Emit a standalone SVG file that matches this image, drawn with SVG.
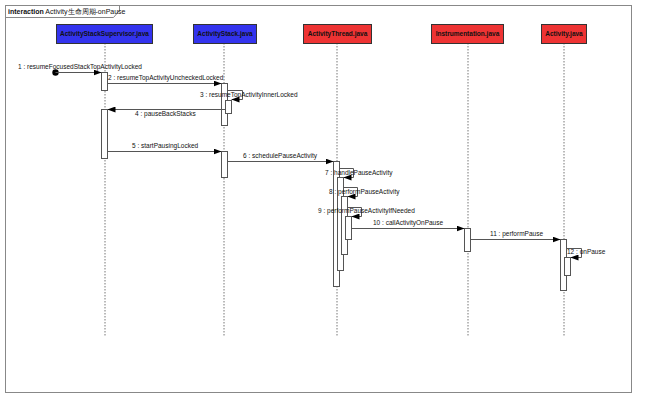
<svg xmlns="http://www.w3.org/2000/svg" width="650" height="409" viewBox="0 0 650 409">
<defs>
<marker id="ah" markerWidth="8" markerHeight="6" refX="8" refY="3" orient="auto" markerUnits="userSpaceOnUse">
<path d="M0,0 L8,3 L0,6 Z" fill="#000"/>
</marker>
<style>
.frame{fill:#fff;stroke:#888;stroke-width:1}
.hdr{stroke:#333;stroke-width:1}
.blue{fill:#3333ee}
.red{fill:#ee3333}
.ht{font-family:"Liberation Sans",Arial,sans-serif;font-size:6.5px;font-weight:bold;fill:#111;text-anchor:middle}
.life{stroke:#777;stroke-width:1;stroke-dasharray:1.5,1.5;fill:none}
.act{fill:#fff;stroke:#555;stroke-width:1}
.msg{stroke:#555;stroke-width:1;fill:none;marker-end:url(#ah)}
.lbl{font-family:"Liberation Sans",Arial,sans-serif;font-size:6.5px;fill:#111}
.ttl{font-family:"Liberation Sans",Arial,sans-serif;font-size:7px;fill:#111}
</style>
</defs>
<rect x="0" y="0" width="650" height="409" fill="#fff"/>
<rect class="frame" x="5.5" y="5.5" width="626" height="387"/>
<path d="M5.5,17.5 L113.5,17.5 L119.5,10.5 L119.5,5.5" fill="none" stroke="#888"/>
<text class="ttl" x="8" y="14"><tspan font-weight="bold">interaction</tspan> Activity生命周期-onPause</text>

<g id="lifelines">
<line class="life" x1="105" y1="43" x2="105" y2="336"/>
<line class="life" x1="224" y1="43" x2="224" y2="336"/>
<line class="life" x1="337" y1="43" x2="337" y2="336"/>
<line class="life" x1="468" y1="43" x2="468" y2="336"/>
<line class="life" x1="564" y1="43" x2="564" y2="336"/>
</g>

<g id="ActivityStackSupervisor">
<rect class="hdr blue" x="56.5" y="24.5" width="96" height="19"/>
<text class="ht" x="104.5" y="36.3">ActivityStackSupervisor.java</text>
</g>
<g id="ActivityStack">
<rect class="hdr blue" x="193.5" y="24.5" width="63" height="19"/>
<text class="ht" x="225" y="36.3">ActivityStack.java</text>
</g>
<g id="ActivityThread">
<rect class="hdr red" x="303.5" y="24.5" width="68" height="19"/>
<text class="ht" x="337.5" y="36.3">ActivityThread.java</text>
</g>
<g id="Instrumentation">
<rect class="hdr red" x="431.5" y="24.5" width="72" height="19"/>
<text class="ht" x="467.5" y="36.3">Instrumentation.java</text>
</g>
<g id="Activity">
<rect class="hdr red" x="541.5" y="24.5" width="45" height="19"/>
<text class="ht" x="564" y="36.3">Activity.java</text>
</g>

<g id="activations">
<rect class="act" x="101.5" y="72.5" width="6" height="18"/>
<rect class="act" x="101.5" y="109.5" width="6" height="49"/>
<rect class="act" x="221.5" y="83.5" width="6" height="42"/>
<rect class="act" x="225.5" y="100.5" width="6" height="13"/>
<rect class="act" x="221.5" y="151.5" width="6" height="26"/>
<rect class="act" x="333.5" y="161.5" width="6" height="125"/>
<rect class="act" x="337.5" y="177.5" width="6" height="93"/>
<rect class="act" x="341.5" y="196.5" width="6" height="58"/>
<rect class="act" x="345.5" y="216.5" width="6" height="23"/>
<rect class="act" x="464.5" y="228.5" width="6" height="23"/>
<rect class="act" x="560.5" y="239.5" width="6" height="51"/>
<rect class="act" x="564.5" y="257.5" width="6" height="18"/>
</g>

<g id="connectors">
<circle cx="55.5" cy="72.5" r="3.2" fill="#000"/>
<line class="msg" x1="55.5" y1="72.5" x2="101.5" y2="72.5"/>
<line class="msg" x1="107.5" y1="83.5" x2="221.5" y2="83.5"/>
<path class="msg" d="M227.5,90.5 L242.5,90.5 L242.5,99.5 L231.5,99.5"/>
<line class="msg" x1="225.5" y1="109.5" x2="107.5" y2="109.5"/>
<line class="msg" x1="107.5" y1="151.5" x2="221.5" y2="151.5"/>
<line class="msg" x1="227.5" y1="161.5" x2="333.5" y2="161.5"/>
<path class="msg" d="M339.5,168.5 L353.5,168.5 L353.5,177.5 L343.5,177.5"/>
<path class="msg" d="M343.5,187.5 L357.5,187.5 L357.5,196.5 L347.5,196.5"/>
<path class="msg" d="M347.5,207.5 L361.5,207.5 L361.5,216.5 L351.5,216.5"/>
<line class="msg" x1="351.5" y1="228.5" x2="464.5" y2="228.5"/>
<line class="msg" x1="470.5" y1="239.5" x2="560.5" y2="239.5"/>
<path class="msg" d="M566.5,248.5 L581.5,248.5 L581.5,257.5 L570.5,257.5"/>
</g>

<g id="labels">
<text class="lbl" x="18" y="69">1 : resumeFocusedStackTopActivityLocked</text>
<text class="lbl" x="108" y="80">2 : resumeTopActivityUncheckedLocked</text>
<text class="lbl" x="200" y="97">3 : resumeTopActivityInnerLocked</text>
<text class="lbl" x="135" y="116">4 : pauseBackStacks</text>
<text class="lbl" x="132" y="148">5 : startPausingLocked</text>
<text class="lbl" x="243" y="158">6 : schedulePauseActivity</text>
<text class="lbl" x="325" y="175">7 : handlePauseActivity</text>
<text class="lbl" x="329" y="194">8 : performPauseActivity</text>
<text class="lbl" x="318" y="213">9 : performPauseActivityIfNeeded</text>
<text class="lbl" x="373" y="225">10 : callActivityOnPause</text>
<text class="lbl" x="490" y="236">11 : performPause</text>
<text class="lbl" x="567" y="254">12 : onPause</text>
</g>
</svg>
